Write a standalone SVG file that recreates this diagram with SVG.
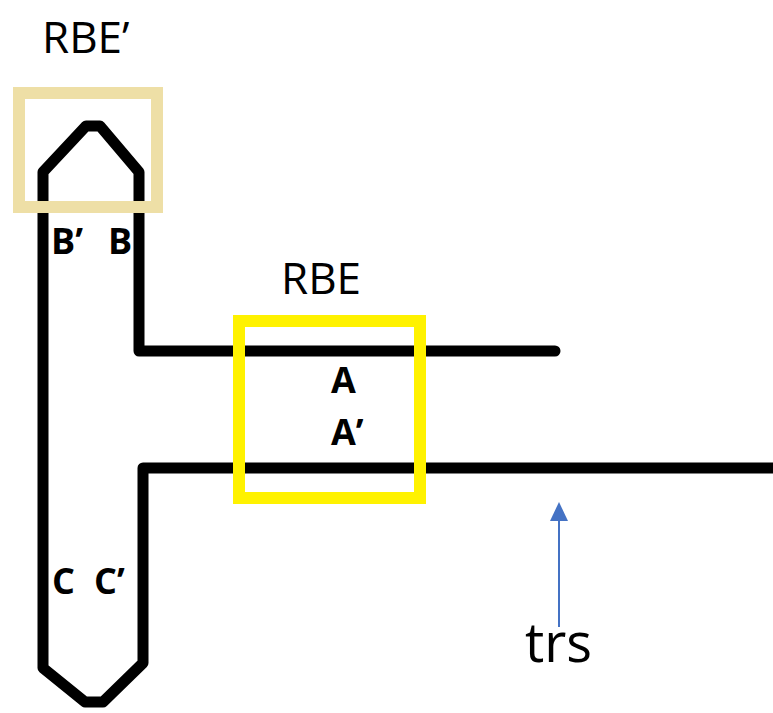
<svg xmlns="http://www.w3.org/2000/svg" width="773" height="713" viewBox="0 0 773 713">
<style>
.strand{fill:none;stroke:#000;stroke-width:11;stroke-linejoin:round;stroke-linecap:round}
.lbl{font-family:"Open Sans","Liberation Sans",sans-serif;fill:#000}
.big{font-size:44px}
.bold{font-family:"Open Sans","Liberation Sans",sans-serif;font-weight:bold;font-size:36px;fill:#000}
</style>
<g id="connectors">
<path class="strand" d="M555 351 H139 V172 L100 126 H86 L43 172 V668 L85 702 H103 L143 663 V468 H775"/>
<line x1="559" y1="627" x2="559" y2="518" stroke="#4472C4" stroke-width="2"/>
<polygon points="559,502 550,521 568,521" fill="#4472C4"/>
</g>
<g id="rbe-prime">
<rect x="19" y="93" width="138" height="114" fill="none" stroke="#EEDFA6" stroke-width="12"/>
<text class="lbl big" x="42" y="53">RBE’</text>
</g>
<g id="rbe">
<rect x="239" y="321" width="181" height="177" fill="none" stroke="#FFF200" stroke-width="12"/>
<text class="lbl big" x="281" y="294">RBE</text>
</g>
<g id="labels">
<text class="bold" x="51" y="254">B’</text>
<text class="bold" x="108" y="254">B</text>
<text class="bold" x="331" y="393">A</text>
<text class="bold" x="331" y="445">A’</text>
<text class="bold" x="52" y="594">C</text>
<text class="bold" x="94" y="594">C’</text>
</g>
<g id="trs">
<text class="lbl" x="525" y="662" font-size="54">trs</text>
</g>
</svg>
